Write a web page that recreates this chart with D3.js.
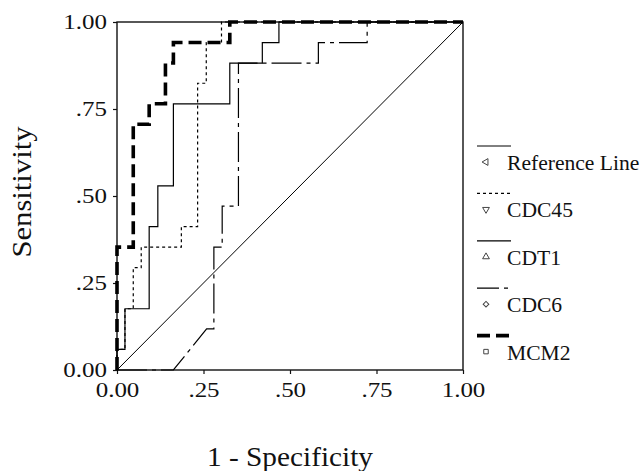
<!DOCTYPE html>
<html>
<head>
<meta charset="utf-8">
<script src="https://cdn.jsdelivr.net/npm/d3@7"></script>
<style>
  body { margin: 0; background: #fff; }
  svg { display: block; font-family: "Liberation Serif", "Times New Roman", serif; }
</style>
</head>
<body>
<div id="chart"></div>
<script>
// ROC curves (1 - specificity, sensitivity)
var tickValues = [0, 0.25, 0.5, 0.75, 1];
var tickLabels = ['0.00', '.25', '.50', '.75', '1.00'];
var seriesNames = ['Reference Line', 'CDC45', 'CDT1', 'CDC6', 'MCM2'];

var refFpr = [0, 1];
var refTpr = [0, 1];

var cdc45Fpr = [0, 0, 0.023, 0.023, 0.047, 0.047, 0.070, 0.070, 0.186, 0.186, 0.233, 0.233, 0.258, 0.258, 0.302, 0.302, 1];
var cdc45Tpr = [0, 0.059, 0.059, 0.176, 0.176, 0.294, 0.294, 0.353, 0.353, 0.412, 0.412, 0.824, 0.824, 0.941, 0.941, 1, 1];

var cdt1Fpr = [0, 0, 0.023, 0.023, 0.093, 0.093, 0.118, 0.118, 0.163, 0.163, 0.326, 0.326, 0.420, 0.420, 0.468, 0.468, 1];
var cdt1Tpr = [0, 0.059, 0.059, 0.176, 0.176, 0.412, 0.412, 0.529, 0.529, 0.765, 0.765, 0.882, 0.882, 0.941, 0.941, 1, 1];

var cdc6Fpr = [0, 0.163, 0.259, 0.280, 0.280, 0.304, 0.304, 0.351, 0.351, 0.582, 0.582, 0.723, 0.723, 1];
var cdc6Tpr = [0, 0, 0.118, 0.118, 0.353, 0.353, 0.471, 0.471, 0.882, 0.882, 0.941, 0.941, 1, 1];

var mcm2Fpr = [0, 0, 0.047, 0.047, 0.093, 0.093, 0.140, 0.140, 0.163, 0.163, 0.326, 0.326, 1];
var mcm2Tpr = [0, 0.353, 0.353, 0.706, 0.706, 0.765, 0.765, 0.882, 0.882, 0.941, 0.941, 1, 1];

var width = 642, height = 471;
var margin = { top: 22, left: 117, right: 179, bottom: 101 };
var plotW = width - margin.left - margin.right;
var plotH = height - margin.top - margin.bottom;

// line styles per series
var styles = {
  'Reference Line': { width: 1, dash: null, offset: 0, symbol: d3.symbolTriangle, rotate: -90 },
  'CDC45': { width: 1.2, dash: '3,3', offset: 0, symbol: d3.symbolTriangle, rotate: 180 },
  'CDT1': { width: 1.2, dash: null, offset: 0, symbol: d3.symbolTriangle, rotate: 0 },
  'CDC6': { width: 1.2, dash: '30,5,4,5', offset: 8, symbol: d3.symbolSquare, rotate: 45 },
  'MCM2': { width: 3.6, dash: '13,6', offset: 0, symbol: d3.symbolSquare, rotate: 0 }
};

var series = [
  { name: 'Reference Line', fpr: refFpr, tpr: refTpr },
  { name: 'CDC6', fpr: cdc6Fpr, tpr: cdc6Tpr },
  { name: 'CDT1', fpr: cdt1Fpr, tpr: cdt1Tpr },
  { name: 'CDC45', fpr: cdc45Fpr, tpr: cdc45Tpr },
  { name: 'MCM2', fpr: mcm2Fpr, tpr: mcm2Tpr }
];

var svg = d3.select('#chart').append('svg')
  .attr('width', width)
  .attr('height', height);

var x = d3.scaleLinear().domain([0, 1]).range([0, plotW]);
var y = d3.scaleLinear().domain([0, 1]).range([plotH, 0]);

var g = svg.append('g')
  .attr('transform', 'translate(' + margin.left + ',' + margin.top + ')');

// the tick text is drawn wider than the font
var tickStretch = 1.25;

var xAxis = g.append('g')
  .attr('transform', 'translate(0,' + plotH + ')')
  .call(d3.axisBottom(x).tickValues(tickValues).tickSize(4).tickSizeOuter(0)
    .tickFormat(function (d, i) { return tickLabels[i]; }));
xAxis.selectAll('text')
  .attr('y', 0).attr('dy', 0)
  .attr('transform', 'translate(0,27) scale(' + tickStretch + ',1)');

var yAxis = g.append('g')
  .call(d3.axisLeft(y).tickValues(tickValues).tickSize(4).tickSizeOuter(0)
    .tickFormat(function (d, i) { return tickLabels[i]; }));
yAxis.selectAll('text')
  .attr('x', 0).attr('dy', 0)
  .attr('transform', 'translate(-10,6.5) scale(' + tickStretch + ',1)');

[xAxis, yAxis].forEach(function (a) {
  a.select('.domain').remove();
  a.selectAll('line').attr('stroke', '#111').attr('stroke-width', 1.2);
  a.selectAll('text')
    .attr('fill', '#111')
    .style('font-size', '20px')
    .style('font-family', '"Liberation Serif", "Times New Roman", serif');
});

// frame
g.append('rect')
  .attr('width', plotW)
  .attr('height', plotH)
  .attr('fill', 'none')
  .attr('stroke', '#111')
  .attr('stroke-width', 1.4);

var line = d3.line()
  .x(function (d) { return x(d[0]); })
  .y(function (d) { return y(d[1]); });

g.selectAll('.roc')
  .data(series)
  .enter()
  .append('path')
  .attr('class', 'roc')
  .attr('fill', 'none')
  .attr('stroke', '#000')
  .attr('stroke-width', function (d) { return styles[d.name].width; })
  .attr('stroke-dasharray', function (d) { return styles[d.name].dash; })
  .attr('d', function (d) {
    return line(d.fpr.map(function (v, i) { return [v, d.tpr[i]]; }));
  });

// axis titles
svg.append('text')
  .attr('x', margin.left + plotW / 2)
  .attr('y', 466)
  .attr('text-anchor', 'middle')
  .attr('textLength', 166)
  .attr('lengthAdjust', 'spacingAndGlyphs')
  .style('font-size', '27px')
  .attr('fill', '#111')
  .text('1 - Specificity');

svg.append('text')
  .attr('transform', 'translate(31,' + (margin.top + plotH / 2 - 4) + ') rotate(-90)')
  .attr('text-anchor', 'middle')
  .attr('textLength', 131)
  .attr('lengthAdjust', 'spacingAndGlyphs')
  .style('font-size', '28px')
  .attr('fill', '#111')
  .text('Sensitivity');

// legend
var legend = svg.append('g').attr('transform', 'translate(477,146)');
var item = legend.selectAll('.item')
  .data(seriesNames)
  .enter()
  .append('g')
  .attr('class', 'item')
  .attr('transform', function (d, i) { return 'translate(0,' + (i * 47.4) + ')'; });

item.append('line')
  .attr('x1', 0).attr('x2', 34)
  .attr('stroke', '#000')
  .attr('stroke-width', function (d) { return styles[d].width; })
  .attr('stroke-dasharray', function (d) { return styles[d].dash; })
  .attr('stroke-dashoffset', function (d) { return styles[d].offset; });

item.append('path')
  .attr('d', function (d) { return d3.symbol().type(styles[d].symbol).size(d === 'CDC6' ? 16 : 20)(); })
  .attr('transform', function (d) { return 'translate(9,16) rotate(' + styles[d].rotate + ')'; })
  .attr('fill', 'none')
  .attr('stroke', '#444')
  .attr('stroke-width', 1);

item.append('text')
  .attr('transform', 'translate(30,24) scale(1.08,1)')
  .style('font-size', '20px')
  .attr('fill', '#111')
  .text(function (d) { return d; });
</script>
</body>
</html>
